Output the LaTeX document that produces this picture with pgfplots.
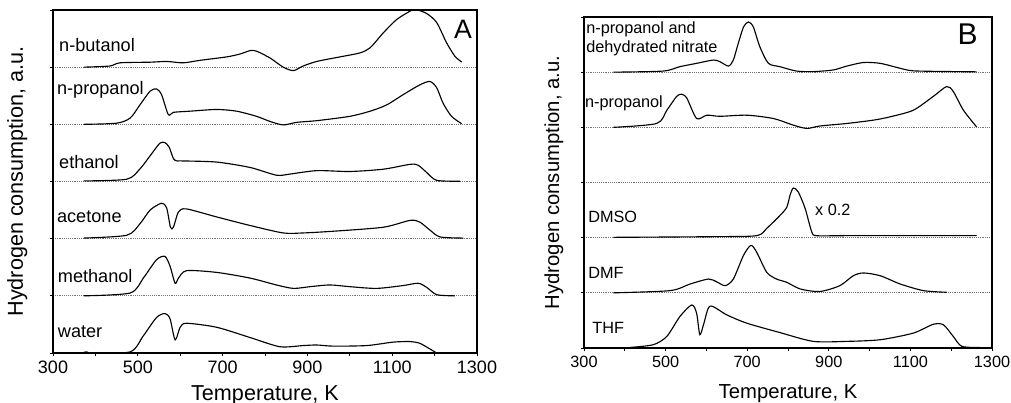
\documentclass[border=0pt]{standalone}
\usepackage{fontspec}
\setmainfont{Liberation Sans}
\usepackage{pgfplots}
\pgfplotsset{compat=1.18}
\pgfplotsset{
  tpr/.style={
    scale only axis,
    xmin=300, xmax=1300, ymin=0, ymax=6,
    xtick={300,500,...,1300},
    minor xtick={400,600,...,1200},
    ytick={0,...,6}, yticklabels={},
    tick align=outside, tick pos=left,
    major tick length=2.6pt, minor tick length=2.3pt,
    every tick/.style={black, line width=0.7pt},
    ymajorgrids, grid style={densely dotted, black!55, line width=0.6pt},
    axis line style={line width=0.9pt},
    /pgf/number format/assume math mode=true,
    /pgf/number format/1000 sep={},
    xlabel={Temperature, K},
    ylabel={Hydrogen consumption, a.u.},
    every axis plot post/.append style={black, solid, mark=none, line width=0.85pt, smooth, tension=0.45},
  },
}
\tikzset{
  labA/.style={anchor=west, font=\fontsize{13.6}{15.5}\selectfont, inner sep=0pt, align=left},
  labB/.style={anchor=west, font=\fontsize{12.2}{14}\selectfont, inner sep=0pt, align=left},
}
\begin{document}
\begin{tikzpicture}
% ---------------- Panel A ----------------
\begin{axis}[tpr, at={(39.75pt,37.5pt)}, anchor=south west, width=318pt, height=257.25pt,
  ticklabel style={font=\fontsize{13.5}{15}\selectfont},
  label style={font=\fontsize{16.2}{19}\selectfont},
  xlabel style={at={(axis description cs:0.5,0)}, anchor=center, yshift=-31.5pt},
  ylabel style={at={(axis description cs:-0.084,0.5)}, anchor=center}]
% n-butanol (baseline 5)
\addplot table[y expr=\thisrowno{1}+5] {
372 0
434 0.02
458 0.076
529 0.087
568 0.10
607 0.076
647 0.12
710 0.18
741 0.23
765 0.29
780 0.28
812 0.16
843 0.0
867 -0.06
890 0.02
922 0.10
977 0.18
1024 0.25
1048 0.34
1079 0.60
1110 0.83
1142 0.98
1154 1.01
1181 0.94
1205 0.78
1228 0.43
1248 0.19
1264 0.09
};
% n-propanol (baseline 4)
\addplot table[y expr=\thisrowno{1}+4] {
372 0
450 0.02
482 0.11
505 0.34
529 0.58
544 0.62
556 0.52
572 0.17
584 0.21
623 0.23
686 0.26
733 0.23
780 0.14
812 0.05
843 -0.01
875 0.035
922 0.064
1000 0.14
1048 0.23
1087 0.34
1126 0.52
1165 0.69
1189 0.75
1205 0.64
1220 0.37
1240 0.14
1264 0.01
};
% ethanol (baseline 3)
\addplot table[y expr=\thisrowno{1}+3] {
372 0.01
474 0.04
505 0.22
529 0.45
552 0.67
564 0.68
574 0.60
584 0.40
592 0.36
603 0.36
686 0.34
765 0.245
827 0.11
859 0.13
922 0.19
1000 0.175
1079 0.215
1142 0.30
1161 0.285
1181 0.16
1205 0.02
1260 0.005
};
% acetone (baseline 2)
\addplot table[y expr=\thisrowno{1}+2] {
372 0.01
474 0.06
505 0.26
529 0.50
556 0.62
568 0.54
577 0.20
584 0.20
596 0.47
615 0.52
686 0.38
765 0.23
843 0.10
890 0.10
961 0.13
1079 0.20
1142 0.32
1165 0.29
1189 0.15
1213 0.03
1268 0.01
};
% methanol (baseline 1)
\addplot table[y expr=\thisrowno{1}+1] {
372 0
482 0.05
513 0.31
544 0.63
564 0.69
576 0.52
588 0.22
596 0.31
615 0.44
686 0.41
765 0.31
827 0.19
867 0.13
906 0.16
953 0.19
1000 0.16
1063 0.13
1126 0.18
1161 0.22
1181 0.15
1205 0.02
1248 0
};
% water (baseline 0)
\addplot table[y expr=\thisrowno{1}] {
372 0.01
380 0.02
390 0.005
482 0.02
513 0.30
544 0.62
564 0.69
576 0.60
588 0.23
600 0.45
615 0.52
686 0.45
765 0.27
835 0.11
890 0.13
922 0.14
961 0.12
1040 0.13
1102 0.19
1142 0.20
1165 0.17
1189 0.07
1205 0
};
\node[labA] at (axis cs:314,5.38) {n-butanol};
\node[labA] at (axis cs:309,4.60) {n-propanol};
\node[labA] at (axis cs:314,3.34) {ethanol};
\node[labA] at (axis cs:309,2.38) {acetone};
\node[labA] at (axis cs:311,1.35) {methanol};
\node[labA] at (axis cs:311,0.37) {water};
\node[font=\fontsize{20}{22}\selectfont, inner sep=0pt] at (axis cs:1267,5.66) {A};
\end{axis}
% ---------------- Panel B ----------------
\begin{axis}[tpr, at={(438pt,41.25pt)}, anchor=south west, width=306pt, height=248.25pt,
  ticklabel style={font=\fontsize{12.2}{13.5}\selectfont},
  label style={font=\fontsize{15.2}{18}\selectfont},
  xlabel style={at={(axis description cs:0.5,0)}, anchor=center, yshift=-34.2pt},
  ylabel style={at={(axis description cs:-0.074,0.5)}, anchor=center}]
% n-propanol and dehydrated nitrate (baseline 5)
\addplot table[y expr=\thisrowno{1}+5] {
372 0
494 0.02
535 0.10
576 0.16
617 0.22
633 0.19
654 0.11
666 0.22
678 0.52
691 0.82
703 0.91
715 0.82
731 0.46
752 0.16
780 0.10
821 0.02
862 0.01
911 0.04
944 0.11
985 0.175
1026 0.16
1075 0.07
1107 0.024
1189 0.012
1262 0.006
};
% n-propanol (baseline 4)
\addplot table[y expr=\thisrowno{1}+4] {
372 0
478 0.07
503 0.31
527 0.56
539 0.60
552 0.53
576 0.16
601 0.22
633 0.20
699 0.22
764 0.16
813 0.04
846 -0.02
878 0.024
944 0.07
1009 0.13
1050 0.19
1107 0.31
1156 0.56
1189 0.74
1205 0.65
1230 0.31
1262 0.01
};
% DMSO (baseline 2)
\addplot table[y expr=\thisrowno{1}+2] {
372 0.006
617 0.018
723 0.036
748 0.17
780 0.40
797 0.55
805 0.77
813 0.90
825 0.83
842 0.53
858 0.11
870 0.036
944 0.036
1262 0.036
};
% DMF (baseline 1)
\addplot table[y expr=\thisrowno{1}+1] {
372 0
511 0.04
560 0.16
605 0.25
625 0.20
646 0.13
666 0.25
691 0.68
709 0.86
723 0.74
748 0.37
772 0.25
797 0.19
830 0.07
878 0.024
927 0.13
960 0.31
985 0.36
1026 0.31
1075 0.16
1132 0.04
1189 0.01
};
% THF (baseline 0)
\addplot table[y expr=\thisrowno{1}] {
413 0.01
470 0.06
503 0.21
535 0.57
564 0.78
576 0.63
584 0.24
594 0.45
609 0.76
650 0.60
699 0.45
780 0.28
862 0.12
944 0.12
1026 0.15
1107 0.27
1156 0.43
1181 0.42
1205 0.21
1226 0.03
1270 0.01
};
\node[labB] at (axis cs:305,5.61) {n-propanol and\\dehydrated nitrate};
\node[labB] at (axis cs:302,4.44) {n-propanol};
\node[labB] at (axis cs:310,2.37) {DMSO};
\node[labB] at (axis cs:866,2.50) {x 0.2};
\node[labB] at (axis cs:310,1.36) {DMF};
\node[labB] at (axis cs:320,0.36) {THF};
\node[font=\fontsize{22.5}{25}\selectfont, inner sep=0pt] at (axis cs:1240,5.69) {B};
\end{axis}
\pgfresetboundingbox
\path[use as bounding box] (0,0) rectangle (758.25pt,302.25pt);
\end{tikzpicture}
\end{document}
